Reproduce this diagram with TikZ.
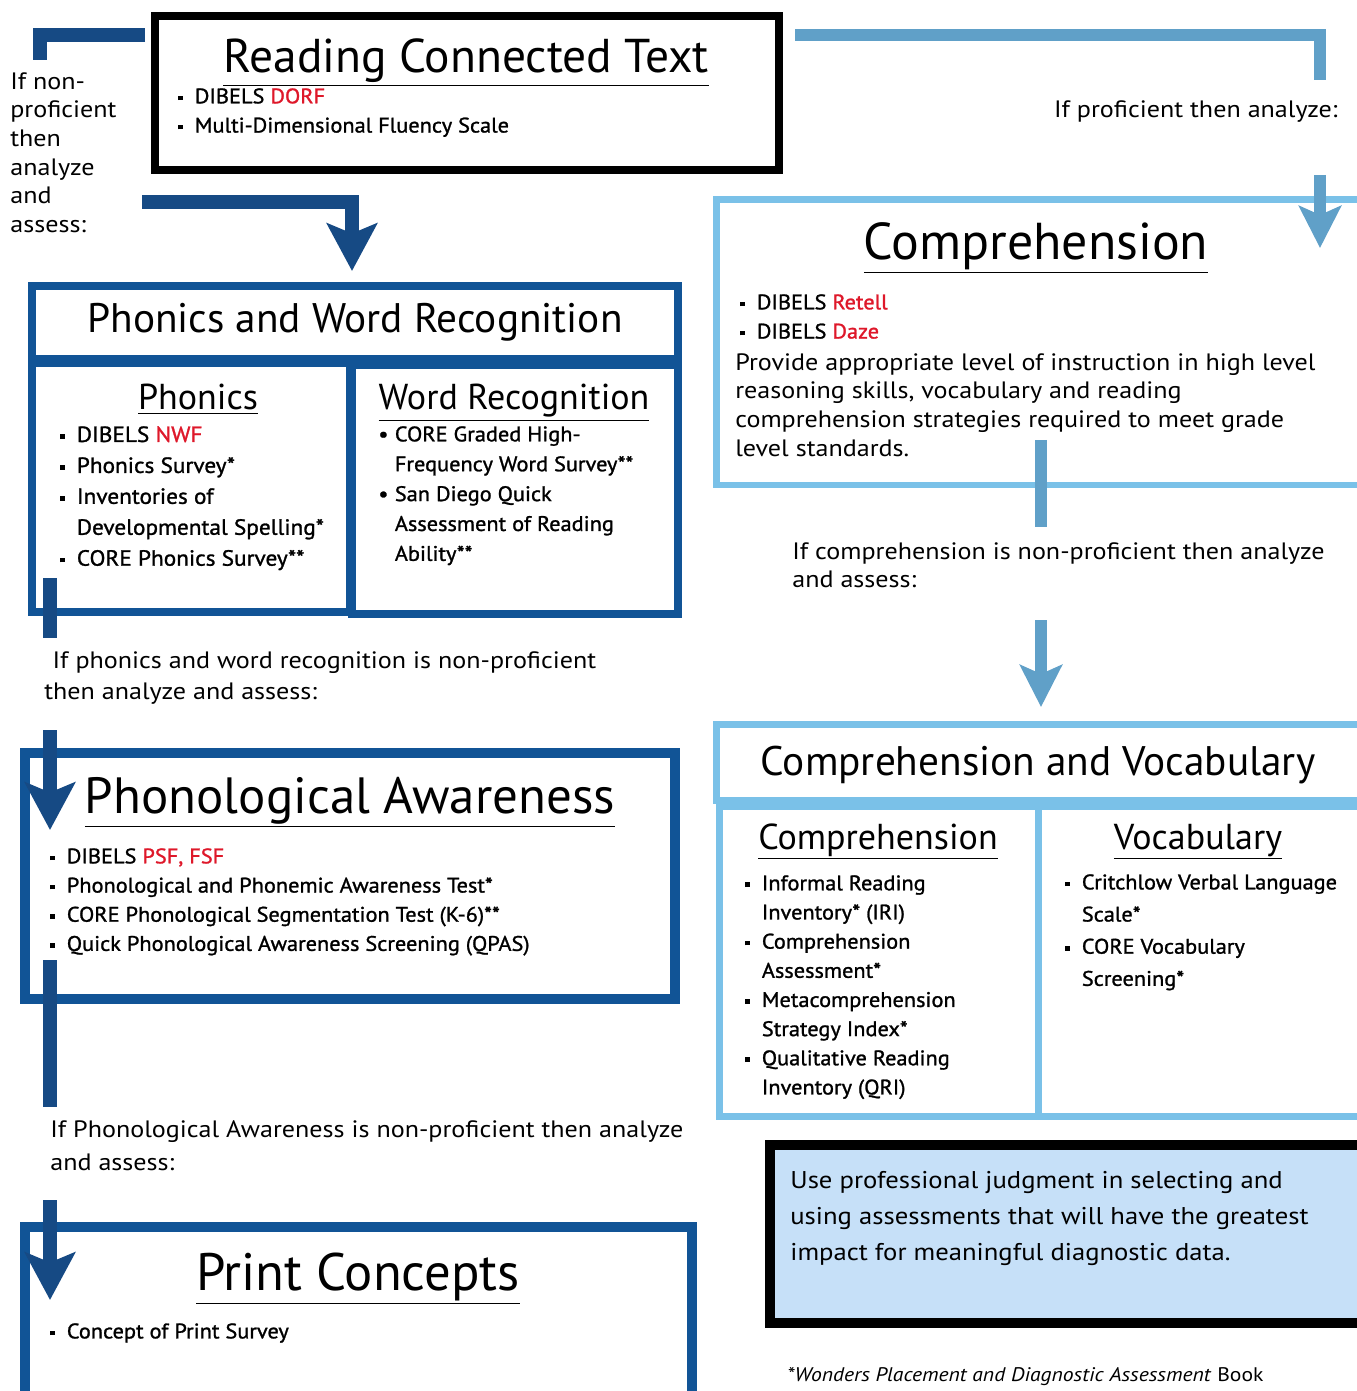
\documentclass[tikz,border=0pt]{standalone}
\usepackage{fontspec}
\setmainfont{PT Sans}
\newfontfamily\widefont{PT Sans}[FakeStretch=1.1]
\newfontfamily\itemfont{PT Sans}[FakeStretch=1.06, FakeBold=1.2]
\usetikzlibrary{arrows.meta,fit}
\definecolor{pwblue}{RGB}{17,84,150}
\definecolor{barblue}{RGB}{22,74,132}
\definecolor{cvblue}{RGB}{122,193,232}
\definecolor{skybar}{RGB}{96,160,200}
\definecolor{profblue}{RGB}{198,224,248}
\definecolor{dibred}{RGB}{222,24,42}
\newcommand{\sqb}{\makebox[0.33cm][l]{\raisebox{0.3ex}{\rule{0.22em}{0.22em}}}}
\newcommand{\rdb}{\makebox[0.33cm][l]{\textbullet}}
\newcommand{\gap}{\makebox[0.33cm]{}}
\newcommand{\hl}[1]{\textcolor{dibred}{#1}}
\begin{document}
\begin{tikzpicture}[x=0.02cm,y=-0.02cm,
    darkbox/.style={draw=pwblue, line width=1.6mm, inner sep=0pt},
    lightbox/.style={draw=cvblue, line width=1.4mm, inner sep=0pt},
    blackbox/.style={draw=black, line width=1.6mm, inner sep=0pt},
    bigtitle/.style={anchor=base, font=\fontsize{27}{30}\selectfont},
    midtitle/.style={anchor=base, font=\fontsize{23.5}{26}\selectfont},
    subtitle/.style={anchor=base, font=\fontsize{20.5}{23}\selectfont},
    note/.style={anchor=north west, inner sep=0pt, align=left, font=\widefont\fontsize{13.5}{16.3}\selectfont},
    items/.style={anchor=north west, inner sep=0pt, align=left, font=\itemfont\fontsize{12}{16.6}\selectfont},
    darkbar/.style={draw=barblue, line width=2.8mm, line join=miter},
    lightbar/.style={draw=skybar, line width=2.4mm, line join=miter},
    darkarrow/.style={darkbar, -{Stealth[length=9.5mm,width=10mm,inset=2mm]}},
    lightarrow/.style={lightbar, -{Stealth[length=8.4mm,width=8.4mm,inset=1.8mm]}}]
\useasboundingbox (0,0) rectangle (1356,1391);

% reading connected text
\node[blackbox, fit={(155,16) (779,170)}] (rct) {};
\node[bigtitle] (rcttitle) at (466,73) {\underline{Reading Connected Text}};
\node[items] (rctlist) at (178,88) {\sqb DIBELS \hl{DORF}\\ \sqb Multi-Dimensional Fluency Scale};
\node[note] (nonprof) at (10,72) {If non-\\proficient\\then\\analyze\\and\\assess:};
\node[note, anchor=east] (profnote) at (1338,112) {If proficient then analyze:};

% comprehension
\node[lightbox, fit={(716,200) (1362,485)}] (comp) {};
\node[bigtitle, font=\fontsize{29.5}{32}\selectfont] (comptitle) at (1036,260) {\underline{Comprehension}};
\node[items] (complist) at (740,294) {\sqb DIBELS \hl{Retell}\\ \sqb DIBELS \hl{Daze}};
\node[note] (comptext) at (735,353) {Provide appropriate level of instruction in high level\\reasoning skills, vocabulary and reading\\comprehension strategies required to meet grade\\level standards.};
\node[note] (compnote) at (792,542) {If comprehension is non-proficient then analyze\\and assess:};

% comprehension and vocabulary
\node[lightbox, fit={(716,724) (1362,800)}] (cvhead) {};
\node[midtitle] (cvtitle) at (1038,775) {Comprehension and Vocabulary};
\node[lightbox, fit={(719,806) (1038,1116)}] (cvleft) {};
\node[lightbox, fit={(1038,806) (1362,1116)}] (cvright) {};
\node[subtitle] (cvlefttitle) at (878,849) {\underline{Comprehension}};
\node[subtitle] (cvrighttitle) at (1198,849) {\underline{Vocabulary}};
\node[items] (cvleftlist) at (745,875) {\sqb Informal Reading\\ \gap Inventory* (IRI)\\ \sqb Comprehension\\ \gap Assessment*\\ \sqb Metacomprehension\\ \gap Strategy Index*\\ \sqb Qualitative Reading\\ \gap Inventory (QRI)};
\node[items, font=\itemfont\fontsize{12}{18.3}\selectfont] (cvrightlist) at (1065,874) {\sqb Critchlow Verbal Language\\ \gap Scale*\\ \sqb CORE Vocabulary\\ \gap Screening*};

% professional judgment
\node[blackbox, line width=2mm, fill=profblue, fit={(770,1145) (1362,1323)}] (prof) {};
\node[note, font=\widefont\fontsize{13.8}{20.4}\selectfont] (proftext) at (790,1171) {Use professional judgment in selecting and\\using assessments that will have the greatest\\impact for meaningful diagnostic data.};
\node[note, font=\widefont\fontsize{11.2}{14}\selectfont] (foot) at (787,1367) {\textit{*Wonders Placement and Diagnostic Assessment} Book};

% phonics and word recognition
\node[darkbox, fit={(32,286) (678,359)}] (pwrhead) {};
\node[midtitle] (pwrtitle) at (355,333) {Phonics and Word Recognition};
\node[darkbox, fit={(32,363) (350,612)}] (phonics) {};
\node[darkbox, fit={(352,365) (678,614)}] (wordrec) {};
\node[subtitle] (phonicstitle) at (198,410) {\underline{Phonics}};
\node[subtitle] (wordrectitle) at (514,410) {\underline{Word Recognition}};
\node[items, font=\itemfont\fontsize{12.5}{17.6}\selectfont] (phonicslist) at (60,426) {\sqb DIBELS \hl{NWF}\\ \sqb Phonics Survey*\\ \sqb Inventories of\\ \gap Developmental Spelling*\\ \sqb CORE Phonics Survey**};
\node[items, font=\itemfont\fontsize{12}{17}\selectfont] (wordreclist) at (378,426) {\rdb CORE Graded High-\\ \gap Frequency Word Survey**\\ \rdb San Diego Quick\\ \gap Assessment of Reading\\ \gap Ability**};
\node[note, font=\widefont\fontsize{13.5}{18}\selectfont] (pwrnote) at (44,651) {\hspace{0.35em}If phonics and word recognition is non-proficient\\then analyze and assess:};

% phonological awareness
\node[darkbox, line width=2mm, fit={(25,753) (675,999)}] (phon) {};
\node[bigtitle, font=\fontsize{29}{32}\selectfont] (phontitle) at (350,813) {\underline{Phonological Awareness}};
\node[items] (phonlist) at (50,848) {\sqb DIBELS \hl{PSF, FSF}\\ \sqb Phonological and Phonemic Awareness Test*\\ \sqb CORE Phonological Segmentation Test (K-6)**\\ \sqb Quick Phonological Awareness Screening (QPAS)};
\node[note, font=\widefont\fontsize{13.5}{18.7}\selectfont] (phonnote) at (50,1120) {If Phonological Awareness is non-proficient then analyze\\and assess:};

% print concepts
\node[darkbox, line width=2mm, fit={(25,1227) (692,1400)}] (print) {};
\node[bigtitle, font=\fontsize{30}{33}\selectfont] (printtitle) at (358,1290) {\underline{Print Concepts}};
\node[items] (printlist) at (50,1323) {\sqb Concept of Print Survey};

% connectors
\coordinate (rctleft) at (145,35);
\coordinate (nonproftop) at (40,60);
\coordinate (nonprofright) at (142,202);
\coordinate (pwrtop) at (352,271);
\coordinate (rctright) at (795,35);
\coordinate (profnotetop) at (1320,80);
\coordinate (profnotebot) at (1320,175);
\coordinate (comptop) at (1320,248);
\coordinate (compbot) at (1041,440);
\coordinate (compnotetop) at (1041,527);
\coordinate (compnotebot) at (1041,620);
\coordinate (cvtop) at (1041,707);
\coordinate (pwrbot) at (50,578);
\coordinate (pwrnotetop) at (50,638);
\coordinate (pwrnotebot) at (50,730);
\coordinate (phontop) at (50,830);
\coordinate (phonbot) at (50,960);
\coordinate (phonnotetop) at (50,1107);
\coordinate (phonnotebot) at (50,1200);
\coordinate (printtop) at (50,1300);
\draw[darkbar] (rctleft) -| (nonproftop);
\draw[darkarrow] (nonprofright) -| (pwrtop);
\draw[lightbar] (rctright) -| (profnotetop);
\draw[lightarrow] (profnotebot) -- (comptop);
\draw[lightbar] (compbot) -- (compnotetop);
\draw[lightarrow] (compnotebot) -- (cvtop);
\draw[darkbar] (pwrbot) -- (pwrnotetop);
\draw[darkarrow] (pwrnotebot) -- (phontop);
\draw[darkbar] (phonbot) -- (phonnotetop);
\draw[darkarrow] (phonnotebot) -- (printtop);
\end{tikzpicture}
\end{document}
